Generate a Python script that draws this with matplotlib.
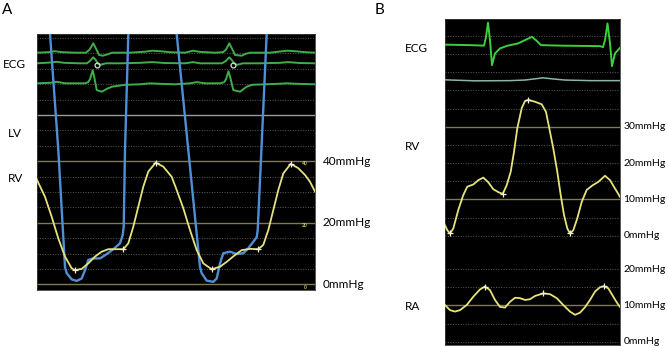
import numpy as np
import matplotlib.pyplot as plt
from matplotlib.transforms import blended_transform_factory

plt.rcParams["font.family"] = ["Lato", "DejaVu Sans"]

# ---------------- panel A (pressure in mmHg, time in screen samples) ----------------
a_rv_t = [36.7, 45, 51.7, 58.3, 65, 71.7, 75, 81.7, 88.3, 95, 101.7, 108.3, 116.7, 123.3, 128.3,
          133.3, 138.3, 143.3, 148.3, 155.7, 163.3, 171.7, 176.7, 183.3, 190, 196.7, 203.3, 211.7,
          220, 226.7, 235, 241.7, 250, 258.3, 263.3, 268.3, 273.3, 278.3, 283.3, 290.7, 298.3, 305,
          310, 315]
a_rv_p = [34.1, 28.4, 21.9, 14.9, 9.0, 5.2, 4.6, 5.0, 6.8, 9.0, 10.6, 11.4, 11.4, 11.4, 13.3,
          18.7, 25.2, 31.7, 36.6, 39.5, 38.2, 34.9, 30.6, 24.7, 17.6, 11.1, 6.8, 4.9,
          5.7, 7.3, 9.5, 11.1, 11.5, 11.4, 12.8, 17.6, 24.1, 30.6, 36.0, 39.1, 37.7, 35.5,
          33.3, 30.1]
a_rv_mark_t = [75, 123.3, 155.7, 211.7, 258.3, 290.7]
a_rv_mark_p = [4.6, 11.4, 39.5, 4.9, 11.4, 39.1]

nan = np.nan
a_lv_t = [48.1, 58.3, 65, 66.7, 71.7, 76.7, 81.7, 85, 88.3, 93.3, 100, 106.7, 113.3, 120, 122.7,
          123.7, 125, 129.1, nan, 174, 188.3, 200, 201.7, 206.7, 213.3, 216.7, 220, 223.3, 230,
          236.7, 243.3, 248.3, 253.3, 256.7, 257.7, 261.4, 267.9]
a_lv_p = [90, 43.6, 5.6, 3.6, 1.6, 1.1, 1.9, 4.6, 7.9, 8.4, 8.4, 9.8, 11.4, 13.3, 16.0,
          18.7, 43.6, 90, nan, 90, 43.6, 5.6, 3.6, 1.2, 0.8, 1.9, 6.8, 10.1, 10.6,
          9.8, 10.1, 11.7, 13.8, 15.3, 17.6, 43.6, 90]

# three ECG leads, deflection in display units
a_ecg1_t = [37, 48, 55, 62, 75, 86, 89.5, 93.3, 97, 99, 103, 108, 112, 130, 145, 152, 160, 170,
            185, 193, 200, 215, 223, 226, 229.3, 233, 235, 241.7, 246, 250, 270, 287, 295, 305, 315]
a_ecg1_v = [0, 0.5, 1.5, 0.5, 0, 0, 3, 9.4, 2, -2.3, -3, -1.5, 0, 0, 1, 2, 1.5, 0.5,
            0, 2, 0.8, 0, 0.5, 3, 9.4, 2, -2.3, -3, -1, 0, 0, 2, 1.5, 0.5, 0]
a_ecg2_t = [37, 50, 57, 64, 80, 87, 90, 93.3, 96, 97.5, 100, 106, 120, 140, 152, 165, 185, 193,
            200, 222, 226, 229.3, 232, 234, 237, 243, 260, 280, 288, 300, 315]
a_ecg2_v = [0, 0.8, 1.5, 0.5, 0, 0, 2.5, 6, 3, 0, -1.5, 0, 0, 0.5, 1.2, 0.3, 0, 1.2,
            0, 0, 2.5, 6, 3, 0, -1.5, 0, 0, 0.5, 1.2, 0.3, 0]
a_ecg2_mark_t = [97.3, 233]
a_ecg2_mark_v = [-1.7, -1.7]
a_ecg3_t = [37, 50, 57, 65, 85, 88, 90, 92.7, 94.5, 96.7, 101.7, 107, 112, 125, 140, 150, 160,
            175, 190, 197, 205, 220, 224, 226, 228.5, 230.5, 233.3, 240, 246.7, 252, 265, 278,
            287, 297, 315]
a_ecg3_v = [0, 0.5, 1.5, 0, 0, 1, 4, 13, 5, -6.7, -8.4, -5.5, -3.4, -1.5, -1, 0, -0.5,
            -1, 0, 1.2, 0, 0, 1, 4, 12, 5, -6.7, -8.4, -3.4, -1.5, -1, -0.5,
            0, -0.5, -1]

a_scale_labels = [40, 20, 0]

# ---------------- panel B ----------------
b_ecg_t = [445, 470, 484, 486, 488, 490, 492, 495, 500, 507, 518, 525, 532, 537, 541, 560, 600,
           603, 605, 607.5, 610, 612, 615, 620]
b_ecg_v = [0.5, 0, -0.5, 8, 22.5, 5, -20, -8.3, -3.3, -0.7, 1.7, 5, 8.3, 4, 0, -0.5, -1,
           -2, 5, 21.7, 2, -21, -8.3, -2.7]
b_aux_t = [445, 475, 510, 525, 535, 543, 552, 565, 590, 620]
b_aux_v = [0.5, -0.5, -0.3, 0.3, 1.5, 2.5, 1.5, 0.3, -0.3, -0.3]

b_rv_t = [444, 447.3, 450, 453.3, 458.3, 463.3, 467.3, 473.3, 478.3, 483.3, 488.3, 493.3, 498.3,
          502.7, 506.7, 510.7, 514, 517.3, 521.7, 525, 528.3, 535, 541.7, 546, 549.3, 553.3,
          557.3, 560.7, 564, 567.3, 570, 573.3, 577.3, 581.7, 586.7, 592.7, 598.3, 605, 610,
          615, 620]
b_rv_p = [3.4, 1.5, 0.6, 2.0, 7.1, 11.2, 13.5, 14.1, 15.3, 16.0, 14.7, 12.8, 12.0,
          11.5, 13.9, 17.6, 23.1, 29.6, 35.1, 37.1, 37.4, 36.9, 36.2, 34.1, 29.6, 24.0,
          17.6, 11.2, 5.7, 2.0, 0.6, 1.5, 4.8, 9.3, 12.6, 13.9, 14.8, 16.5, 15.3,
          13.0, 10.7]
b_rv_mark_t = [450, 502.7, 528.3, 570]
b_rv_mark_p = [0.6, 11.5, 37.4, 0.6]

b_ra_t = [445, 450, 455, 460, 466.7, 473.3, 480, 485, 490, 495, 500, 505, 510, 515, 520, 525,
          530, 535, 543.3, 550, 556.7, 563.3, 570, 575, 580, 585, 590, 595, 600, 604, 608.3,
          613.3, 617.3, 620]
b_ra_p = [10.1, 8.7, 8.3, 8.7, 10.1, 12.4, 14.4, 15.2, 14.2, 11.5, 9.6, 9.4, 11.0, 12.1, 12.0,
          11.5, 11.7, 12.6, 13.3, 13.1, 12.0, 10.1, 8.3, 7.4, 8.0, 9.5, 11.5, 13.8, 15.0, 15.3,
          14.7, 12.4, 10.6, 9.6]
b_ra_mark_t = [485, 543.3, 604]
b_ra_mark_p = [15.2, 13.3, 15.3]

b_rv_labels = [30, 20, 10, 0]
b_ra_labels = [20, 10, 0]

# colours
YEL = "#e6e27c"
BLUE = "#4f8fd6"
GRN_A = "#3fae49"
GRN_B = "#3ccf3c"
TEAL = "#8ab7a5"
OLIVE = "#7e7b52"
DOT = "#5c5c5c"
MARK = "#f2f0d8"

W, H = 668, 346


def box(x0, y0, x1, y1):
    return [x0 / W, 1 - y1 / H, (x1 - x0) / W, (y1 - y0) / H]


def monitor(ax, xlim, ylim, dotted, solid):
    ax.set_facecolor("black")
    ax.set_xlim(*xlim)
    ax.set_ylim(*ylim)
    for v in dotted:
        ax.axhline(v, color=DOT, lw=0.7, ls=(0, (1, 1.6)), zorder=1)
    for v, c in solid:
        ax.axhline(v, color=c, lw=1.0, zorder=1)
    ax.set_xticks([])
    ax.set_yticks([])
    for s in ax.spines.values():
        s.set_color("#3a3a3a")
        s.set_linewidth(0.6)


fig = plt.figure(figsize=(W / 100, H / 100), dpi=100)
fig.patch.set_facecolor("white")

# ---- A ----
a_px = 3.08  # screen px per mmHg
axA = fig.add_axes(box(37, 34, 315, 290))
monitor(axA, (37, 315), (-1.85, 81.27),
        [v for v in range(5, 85, 5) if v not in (20, 40, 55)],
        [(0, OLIVE), (20, OLIVE), (40, OLIVE), (55, "#9a9a9a")])

for t, v, base in [(a_ecg1_t, a_ecg1_v, 75.2), (a_ecg2_t, a_ecg2_v, 71.75), (a_ecg3_t, a_ecg3_v, 65.26)]:
    axA.plot(t, base + np.array(v) / a_px, color=GRN_A, lw=1.4, zorder=3)
axA.plot(a_ecg2_mark_t, 71.75 + np.array(a_ecg2_mark_v) / a_px, "o", ms=3.5, mfc="none",
         mec="#dddddd", mew=0.9, zorder=4)

axA.plot(a_lv_t, a_lv_p, color=BLUE, lw=1.7, zorder=3)
axA.plot(a_rv_t, a_rv_p, color=YEL, lw=1.3, zorder=4)
axA.plot(a_rv_mark_t, a_rv_mark_p, "+", ms=5, color=MARK, mew=0.9, zorder=5)

trA = blended_transform_factory(axA.transAxes, axA.transData)
for v in a_scale_labels:
    axA.text(1.028, v, f"{v}mmHg", transform=trA, ha="left", va="center", fontsize=8.5, clip_on=False)
    axA.text(305, v - 0.9, str(v), color="#c9c25a", fontsize=3.5, fontweight="bold",
             ha="center", va="center")

# ---- B ----
b_px = 3.63
axB1 = fig.add_axes(box(445, 19, 620, 252))
monitor(axB1, (445, 620), (-4.5, 59.7),
        [v for v in range(0, 60, 5) if v not in (10, 30)],
        [(10, OLIVE), (30, OLIVE)])
axB1.plot(b_ecg_t, 52.5 + np.array(b_ecg_v) / b_px, color=GRN_B, lw=1.4, zorder=3)
axB1.plot(b_aux_t, 42.8 + np.array(b_aux_v) / b_px, color=TEAL, lw=1.1, zorder=3)
axB1.plot(b_rv_t, b_rv_p, color=YEL, lw=1.3, zorder=4)
axB1.plot(b_rv_mark_t, b_rv_mark_p, "+", ms=5, color=MARK, mew=0.9, zorder=5)

axB2 = fig.add_axes(box(445, 252, 620, 345))
monitor(axB2, (445, 620), (-0.9, 24.7), [0, 5, 15, 20], [(10, OLIVE)])
axB2.spines["top"].set_visible(False)
axB1.spines["bottom"].set_visible(False)
axB2.plot(b_ra_t, b_ra_p, color=YEL, lw=1.3, zorder=4)
axB2.plot(b_ra_mark_t, b_ra_mark_p, "+", ms=5, color=MARK, mew=0.9, zorder=5)

for ax, vals in [(axB1, b_rv_labels), (axB2, b_ra_labels)]:
    tr = blended_transform_factory(ax.transAxes, ax.transData)
    for v in vals:
        ax.text(1.02, v, f"{v}mmHg", transform=tr, ha="left", va="center", fontsize=7.5, clip_on=False)

# ---- side labels ----
for txt, x, y in [("ECG", 3, 65), ("LV", 8, 133), ("RV", 8, 178),
                  ("ECG", 405, 48), ("RV", 405, 147), ("RA", 405, 307)]:
    fig.text(x / W, 1 - y / H, txt, ha="left", va="center", fontsize=8.5)
fig.text(2 / W, 1 - 10 / H, "A", ha="left", va="center", fontsize=11)
fig.text(375 / W, 1 - 10 / H, "B", ha="left", va="center", fontsize=11)

fig.savefig("out.png", dpi=100)
